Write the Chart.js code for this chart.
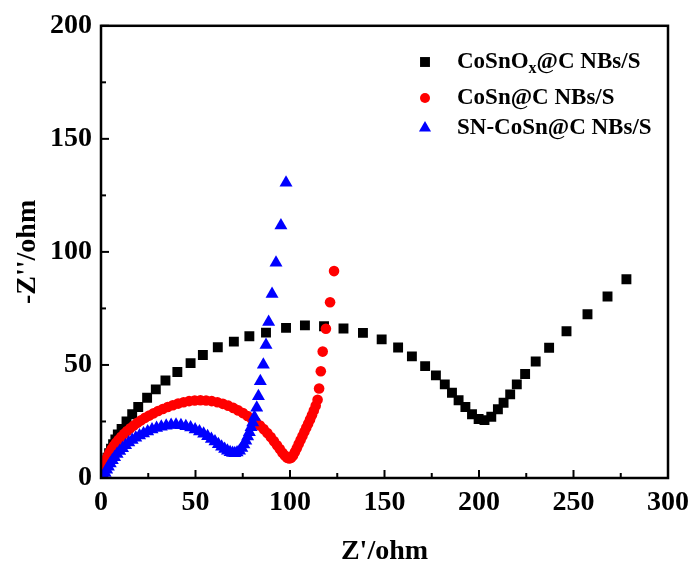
<!DOCTYPE html>
<html>
<head>
<meta charset="utf-8">
<title>EIS Nyquist plot</title>
<script src="https://cdn.jsdelivr.net/npm/chart.js@4.4.0/dist/chart.umd.min.js"></script>
<style>
    body { margin: 0; background: #fff; }
    #wrap { width: 697px; height: 566px; }
</style>
</head>
<body>
<div id="wrap"><canvas id="nyquistChart" width="697" height="566"></canvas></div>
<script>
// Z' (ohm) / -Z'' (ohm) for each electrode
const cosnoxZre = [0.6, 1.2, 1.9, 2.6, 3.4, 4.3, 5.3, 6.4, 7.6, 8.9, 10.9, 13.5, 16.5, 19.7, 24.4, 29.0, 34.1, 40.4, 47.4, 53.9,
    61.8, 70.3, 78.5, 87.3, 97.9, 107.9, 118.0, 128.3, 138.6, 148.5, 157.2, 164.5, 171.5, 177.2, 181.9, 185.7, 189.2, 192.8, 196.3, 199.8,
    202.9, 206.5, 210.0, 213.0, 216.5, 220.0, 224.4, 230.0, 237.1, 246.3, 257.4, 268.0, 278.0];
const cosnoxZim = [1.5, 3.3, 5.2, 7.1, 9.0, 11.0, 13.0, 15.0, 17.1, 19.3, 21.7, 25.0, 28.2, 31.4, 35.5, 39.2, 43.1, 46.9, 50.8, 54.4,
    57.8, 60.3, 62.7, 64.3, 66.4, 67.5, 67.1, 66.1, 64.2, 61.3, 57.7, 53.8, 49.5, 45.4, 41.4, 37.7, 34.4, 31.4, 28.2, 26.1,
    25.6, 27.1, 30.4, 33.3, 37.0, 41.4, 46.0, 51.5, 57.6, 64.9, 72.4, 80.3, 87.9];

const cosnZre = [0.5, 1.0, 1.6, 2.3, 3.0, 3.8, 4.7, 5.7, 6.8, 8.0, 9.3, 10.7, 12.2, 13.8, 15.5, 17.3, 19.2, 21.2, 23.3, 25.5,
    27.8, 30.2, 32.7, 35.3, 38.0, 40.8, 43.7, 46.6, 49.6, 52.6, 55.6, 58.6, 61.6, 64.5, 67.3, 70.0, 72.6, 75.1, 77.5, 79.8,
    82.0, 84.1, 86.1, 88.0, 89.8, 91.5, 93.1, 94.6, 96.0, 97.3, 98.5, 99.6, 100.6, 101.6, 102.6, 103.6, 104.6, 105.6, 106.6, 107.6,
    108.6, 109.6, 110.6, 111.6, 112.6, 113.6, 114.6, 115.4, 116.3, 117.3, 119.0, 121.2, 123.3];
const cosnZim = [1.8, 3.6, 5.4, 7.1, 8.6, 10.0, 11.5, 12.9, 14.3, 15.6, 16.9, 18.2, 19.5, 20.8, 22.0, 23.2, 24.4, 25.5, 26.6, 27.6,
    28.6, 29.6, 30.5, 31.4, 32.2, 32.9, 33.5, 34.0, 34.3, 34.4, 34.3, 34.0, 33.5, 32.8, 32.0, 31.0, 29.9, 28.7, 27.4, 26.1,
    24.7, 23.2, 21.6, 19.9, 18.1, 16.3, 14.5, 12.8, 11.2, 9.9, 9.0, 8.6, 9.0, 10.0, 11.5, 13.2, 15.0, 16.8, 18.6, 20.4,
    22.2, 24.0, 25.9, 27.8, 29.8, 32.0, 34.6, 39.6, 47.2, 55.9, 66.0, 77.7, 91.5];

const snZre = [1.5, 2.2, 3.0, 3.9, 4.9, 6.0, 7.2, 8.5, 9.9, 11.4, 13.0, 14.7, 16.5, 18.4, 20.4, 22.5, 24.7, 27.0, 29.4, 31.9,
    34.5, 37.1, 39.7, 42.3, 44.9, 47.4, 49.8, 52.1, 54.3, 56.4, 58.4, 60.3, 62.1, 63.8, 65.4, 66.9, 68.3, 69.6, 70.8, 72.0,
    73.3, 74.5, 75.6, 76.6, 77.6, 78.5, 79.4, 80.3, 81.2, 82.4, 83.3, 84.3, 85.9, 87.3, 88.7, 90.5, 92.6, 95.2, 97.9];
const snZim = [0.8, 2.2, 3.6, 5.0, 6.4, 7.8, 9.2, 10.6, 11.9, 13.2, 14.5, 15.7, 16.8, 17.8, 18.8, 19.7, 20.6, 21.4, 22.1, 22.7,
    23.1, 23.4, 23.5, 23.3, 22.9, 22.3, 21.5, 20.6, 19.6, 18.5, 17.3, 16.1, 14.9, 13.8, 12.8, 12.0, 11.4, 11.1, 11.0, 11.3,
    12.1, 13.3, 14.8, 16.5, 18.3, 20.2, 22.4, 24.6, 27.0, 31.1, 36.2, 42.8, 50.1, 58.8, 69.0, 81.4, 95.2, 111.7, 130.6];

const seriesLabels = ['CoSnOx@C NBs/S', 'CoSn@C NBs/S', 'SN-CoSn@C NBs/S'];

// axis ticks
const xMajorTicks = [0, 50, 100, 150, 200, 250, 300];
const xMinorTicks = [25, 75, 125, 175, 225, 275];
const yMajorTicks = [0, 50, 100, 150, 200];
const yMinorTicks = [25, 75, 125, 175];

const serif = '"Liberation Serif", "Times New Roman", serif';

function toPoints(xs, ys) {
    return xs.map((x, i) => ({ x: x, y: ys[i] }));
}

// box around the plot with inward ticks on bottom and left
const framePlugin = {
    id: 'frame',
    afterDraw(chart) {
        const { ctx, chartArea: a, scales: { x, y } } = chart;
        ctx.save();
        ctx.strokeStyle = '#000';
        ctx.lineWidth = 2;
        const tick = (px, py, dx, dy) => {
            ctx.beginPath();
            ctx.moveTo(px, py);
            ctx.lineTo(px + dx, py + dy);
            ctx.stroke();
        };
        xMajorTicks.forEach(v => tick(x.getPixelForValue(v), a.bottom, 0, -8));
        xMinorTicks.forEach(v => tick(x.getPixelForValue(v), a.bottom, 0, -5));
        yMajorTicks.forEach(v => tick(a.left, y.getPixelForValue(v), 8, 0));
        yMinorTicks.forEach(v => tick(a.left, y.getPixelForValue(v), 5, 0));
        ctx.lineWidth = 2.5;
        ctx.strokeRect(a.left, a.top, a.right - a.left, a.bottom - a.top);
        ctx.restore();
    }
};

// legend in the top right, with subscript x in the first label
const legendPlugin = {
    id: 'insetLegend',
    afterDraw(chart) {
        const ctx = chart.ctx;
        const rows = [62, 98, 128];
        const markerX = 425;
        const textX = 457;
        const fontSize = 23;
        ctx.save();
        chart.data.datasets.forEach((ds, i) => {
            const rowY = rows[i];
            ctx.fillStyle = ds.backgroundColor;
            ctx.strokeStyle = ds.backgroundColor;
            Chart.helpers.drawPoint(ctx, {
                pointStyle: ds.pointStyle,
                radius: ds.legendRadius,
                rotation: 0,
                borderWidth: 0
            }, markerX, rowY);

            ctx.fillStyle = '#000';
            ctx.textBaseline = 'middle';
            ctx.textAlign = 'left';
            ctx.font = `bold ${fontSize}px ${serif}`;
            const label = ds.label;
            const sub = label.indexOf('Ox@');
            if (sub >= 0) {
                const head = label.slice(0, sub + 1);
                const tail = label.slice(sub + 2);
                let cx = textX;
                ctx.fillText(head, cx, rowY);
                cx += ctx.measureText(head).width;
                ctx.font = `bold ${Math.round(fontSize * 0.68)}px ${serif}`;
                ctx.fillText('x', cx, rowY + 7);
                cx += ctx.measureText('x').width;
                ctx.font = `bold ${fontSize}px ${serif}`;
                ctx.fillText(tail, cx, rowY);
            } else {
                ctx.fillText(label, textX, rowY);
            }
        });
        ctx.restore();
    }
};

const tickFont = { family: serif, size: 28, weight: 'bold' };

const chartCtx = document.getElementById('nyquistChart');
new Chart(chartCtx, {
    type: 'scatter',
    data: {
        datasets: [
            {
                label: seriesLabels[0],
                data: toPoints(cosnoxZre, cosnoxZim),
                pointStyle: 'rect',
                pointRadius: 7,
                legendRadius: 7,
                backgroundColor: '#000000',
                borderColor: '#000000',
                borderWidth: 0,
                order: 3
            },
            {
                label: seriesLabels[1],
                data: toPoints(cosnZre, cosnZim),
                pointStyle: 'circle',
                pointRadius: 5.3,
                legendRadius: 5,
                backgroundColor: '#ff0000',
                borderColor: '#ff0000',
                borderWidth: 0,
                order: 2
            },
            {
                label: seriesLabels[2],
                data: toPoints(snZre, snZim),
                pointStyle: 'triangle',
                pointRadius: 7.5,
                legendRadius: 7,
                backgroundColor: '#0000ff',
                borderColor: '#0000ff',
                borderWidth: 0,
                order: 1
            }
        ]
    },
    options: {
        responsive: false,
        animation: false,
        layout: { padding: { left: 0, right: 27, top: 20, bottom: 0 } },
        plugins: {
            legend: { display: false },
            tooltip: { enabled: false }
        },
        scales: {
            x: {
                type: 'linear',
                min: 0,
                max: 300,
                grid: { display: false, drawTicks: false },
                border: { display: false },
                afterBuildTicks: scale => { scale.ticks = xMajorTicks.map(v => ({ value: v })); },
                afterFit: scale => { scale.height = 88; },
                ticks: { color: '#000', padding: 8, maxRotation: 0, font: tickFont },
                title: {
                    display: true,
                    text: "Z'/ohm",
                    color: '#000',
                    padding: 0,
                    font: { family: serif, size: 28, weight: 'bold', lineHeight: 1 }
                }
            },
            y: {
                type: 'linear',
                min: 0,
                max: 200,
                grid: { display: false, drawTicks: false },
                border: { display: false },
                afterBuildTicks: scale => { scale.ticks = yMajorTicks.map(v => ({ value: v })); },
                afterFit: scale => { scale.width = 101; },
                ticks: { color: '#000', padding: 9, font: tickFont },
                title: {
                    display: true,
                    text: "-Z''/ohm",
                    color: '#000',
                    padding: { top: 14, bottom: 0 },
                    font: { family: serif, size: 28, weight: 'bold', lineHeight: 1 }
                }
            }
        }
    },
    plugins: [framePlugin, legendPlugin]
});
</script>
</body>
</html>
